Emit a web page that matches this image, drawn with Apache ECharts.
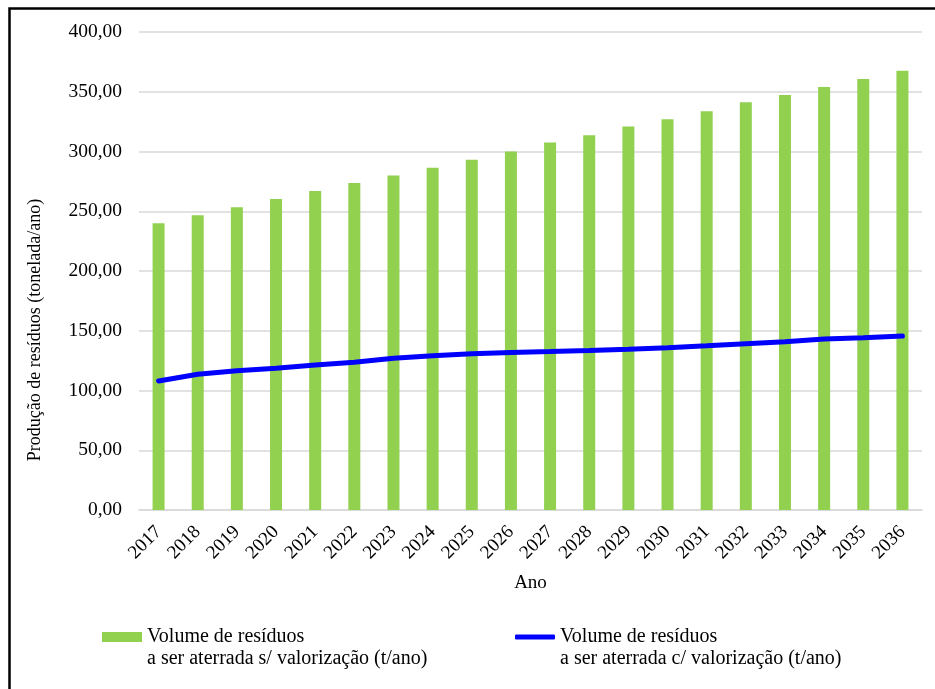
<!DOCTYPE html>
<html>
<head>
<meta charset="utf-8">
<script src="https://cdn.jsdelivr.net/npm/echarts@6/dist/echarts.min.js"></script>
<style>
  html, body { margin: 0; padding: 0; background: #fff; }
  #main { width: 935px; height: 689px; }
</style>
</head>
<body>
<div id="main"></div>
<script>
// dados
var anos = ['2017', '2018', '2019', '2020', '2021', '2022', '2023', '2024', '2025', '2026',
  '2027', '2028', '2029', '2030', '2031', '2032', '2033', '2034', '2035', '2036'];
var semValorizacao = [240.0, 246.6, 253.3, 260.2, 267.0, 273.6, 279.9, 286.5, 293.2, 299.9,
  307.5, 313.6, 321.0, 327.0, 333.6, 341.2, 347.3, 354.0, 360.7, 367.6];
var comValorizacao = [108.0, 113.6, 116.6, 118.6, 121.3, 123.6, 126.9, 129.1, 130.8, 131.9,
  132.6, 133.4, 134.5, 135.8, 137.4, 139.1, 140.8, 143.0, 144.2, 145.6];
var ticksY = [0, 50, 100, 150, 200, 250, 300, 350, 400];

var nomeBarra = 'Volume de resíduos';
var nomeLinha = 'Volume de resíduos ';  // espaço final para distinguir as duas séries
var linha2Barra = 'a ser aterrada s/ valorização (t/ano)';
var linha2Linha = 'a ser aterrada c/ valorização (t/ano)';

var fonte = '"Liberation Serif", "Times New Roman", serif';

var myChart = echarts.init(document.getElementById('main'));

var legendText = { fontFamily: fonte, fontSize: 20, color: '#000', lineHeight: 24 };

var option = {
  backgroundColor: '#fff',
  animation: false,
  grid: { left: 139, right: 13, top: 32, bottom: 179 },
  legend: [
    {
      data: [{ name: nomeBarra, icon: 'rect' }],
      left: 102, top: 625, padding: 0,
      itemWidth: 40, itemHeight: 10,
      textStyle: legendText
    },
    {
      data: [{ name: nomeLinha, icon: 'roundRect', itemStyle: { color: '#0000ff' } }],
      left: 515, top: 625, padding: 0,
      itemWidth: 40, itemHeight: 5,
      textStyle: legendText
    }
  ],
  xAxis: {
    type: 'category',
    data: anos,
    name: 'Ano',
    nameLocation: 'middle',
    nameGap: 64,
    nameTextStyle: { fontFamily: fonte, fontSize: 19, color: '#000' },
    axisTick: { show: false },
    axisLine: { lineStyle: { color: '#d9d9d9', width: 1.5 } },
    axisLabel: { rotate: 45, margin: 19, fontFamily: fonte, fontSize: 19, color: '#000', interval: 0 }
  },
  yAxis: {
    type: 'value',
    min: ticksY[0],
    max: ticksY[ticksY.length - 1],
    interval: 50,
    axisLine: { show: false },
    axisTick: { show: false },
    splitLine: { lineStyle: { color: '#d9d9d9', width: 1.5 } },
    axisLabel: {
      margin: 17,
      fontFamily: fonte, fontSize: 19.5, color: '#000',
      formatter: function (v) { return v.toFixed(2).replace('.', ','); }
    }
  },
  series: [
    {
      name: nomeBarra,
      type: 'bar',
      data: semValorizacao,
      barWidth: 12,
      itemStyle: { color: '#92d050' }
    },
    {
      name: nomeLinha,
      type: 'line',
      data: comValorizacao,
      symbol: 'none',
      lineStyle: { color: '#0000ff', width: 5, cap: 'round' },
      itemStyle: { color: '#0000ff' }
    }
  ],
  graphic: [
    {
      type: 'rect',
      shape: { x: 9.5, y: 8.5, width: 2000, height: 2000 },
      style: { fill: 'none', stroke: '#000', lineWidth: 2.5 },
      silent: true
    },
    {
      type: 'text',
      x: 26, y: 330,
      rotation: Math.PI / 2,
      style: {
        text: 'Produção de resíduos (tonelada/ano)',
        fontFamily: fonte, fontSize: 18, fill: '#000',
        align: 'center', verticalAlign: 'top'
      }
    },
    // segunda linha do texto da legenda
    {
      type: 'text', x: 147, y: 659,
      style: { text: linha2Barra, fontFamily: fonte, fontSize: 20, fill: '#000', verticalAlign: 'middle' }
    },
    {
      type: 'text', x: 560, y: 659,
      style: { text: linha2Linha, fontFamily: fonte, fontSize: 20, fill: '#000', verticalAlign: 'middle' }
    }
  ]
};

myChart.setOption(option);
</script>
</body>
</html>
